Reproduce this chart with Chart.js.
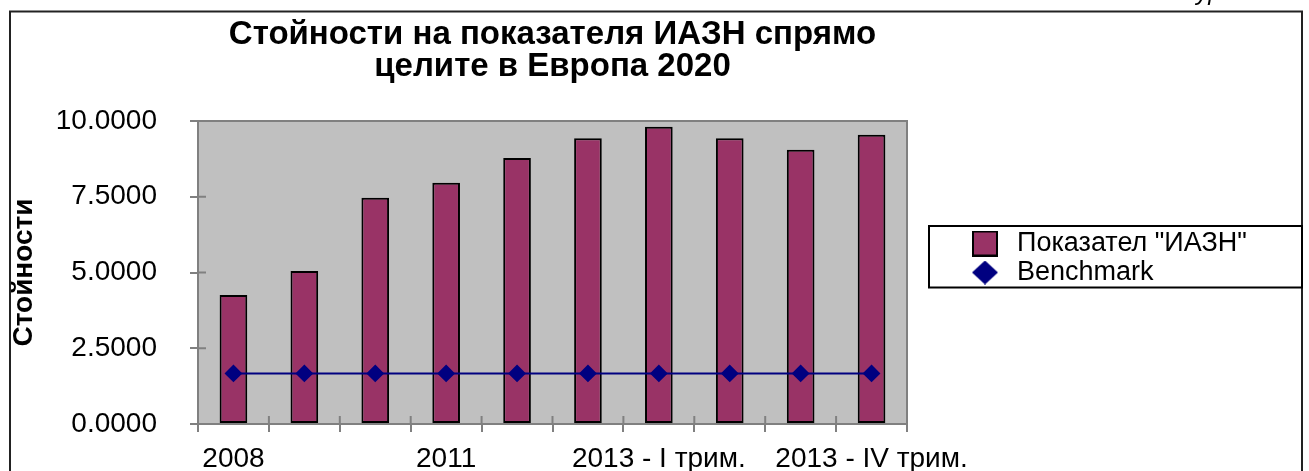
<!DOCTYPE html>
<html>
<head>
<meta charset="utf-8">
<script src="https://cdn.jsdelivr.net/npm/chart.js@4.4.1/dist/chart.umd.min.js"></script>
<style>
  html, body { margin: 0; padding: 0; background: #fff; overflow: hidden; }
  #wrap { position: relative; width: 1309px; height: 471px; overflow: hidden; }
  #c { position: absolute; left: 0; top: 0; }
  #fig { position: absolute; left: 1152px; top: -20px; font: italic 24px "Liberation Sans", Arial, sans-serif; line-height: 24px; color: #000; white-space: nowrap; }
</style>
</head>
<body>
<div id="wrap">
  <canvas id="c" width="1309" height="516" style="width:1309px;height:516px"></canvas>
  <div id="fig">Фигура</div>
</div>
<script>
// ---- data ----
const categories = ["2008", "2009", "2010", "2011", "2012", "2012 - IV трим.", "2013 - I трим.", "2013 - II трим.", "2013 - III трим.", "2013 - IV трим."];
const iaznValues = [4.26, 5.05, 7.47, 7.96, 8.78, 9.43, 9.81, 9.43, 9.05, 9.55];
const benchmarkValues = [1.67, 1.67, 1.67, 1.67, 1.67, 1.67, 1.67, 1.67, 1.67, 1.67];
const seriesNames = ['Показател "ИАЗН"', 'Benchmark'];
const titleLines = ["Стойности на показателя ИАЗН спрямо", "целите в Европа 2020"];
const yAxisTitle = "Стойности";
const yTicks = [0, 2.5, 5, 7.5, 10];

const FONT = '"Liberation Sans", Arial, sans-serif';
const BAR_COLOR = '#993366';
const LINE_COLOR = '#000080';
const AXIS_GRAY = '#808080';

// legend markers
function makeSquare() {
  const c = document.createElement('canvas'); c.width = 26; c.height = 26;
  const g = c.getContext('2d');
  g.fillStyle = '#000'; g.fillRect(0, 0, 26, 26);
  g.fillStyle = BAR_COLOR; g.fillRect(2, 2, 22, 22);
  return c;
}
function makeDiamond() {
  const c = document.createElement('canvas'); c.width = 26; c.height = 24;
  const g = c.getContext('2d');
  g.fillStyle = LINE_COLOR;
  g.beginPath(); g.moveTo(13, 0); g.lineTo(26, 12); g.lineTo(13, 24); g.lineTo(0, 12); g.closePath(); g.fill();
  return c;
}
const markers = [makeSquare(), makeDiamond()];

const decorPlugin = {
  id: 'decor',
  afterLayout(chart) {
    const lg = chart.legend;
    if (lg) {
      lg.left = 964.5;
      lg.right = 1302;
      lg.width = lg.right - lg.left;
    }
  },
  beforeDraw(chart) {
    const {ctx, chartArea: a} = chart;
    ctx.save();
    ctx.fillStyle = '#C0C0C0';
    ctx.fillRect(a.left, a.top, a.right - a.left, a.bottom - a.top);
    ctx.restore();
  },
  beforeDatasetsDraw(chart) {
    const {ctx, chartArea: a, scales} = chart;
    ctx.save();
    ctx.strokeStyle = AXIS_GRAY; ctx.lineWidth = 2;
    ctx.strokeRect(a.left, a.top, a.right - a.left, a.bottom - a.top);
    // inner halves of crossing tick marks
    ctx.beginPath();
    scales.y.ticks.forEach(t => {
      const y = scales.y.getPixelForValue(t.value);
      ctx.moveTo(a.left, y); ctx.lineTo(a.left + 8, y);
    });
    for (let i = 0; i <= categories.length; i++) {
      const x = scales.x.getPixelForValue(i - 0.5);
      ctx.moveTo(x, a.bottom); ctx.lineTo(x, a.bottom - 8);
    }
    ctx.stroke();
    ctx.restore();
  },
  afterDraw(chart) {
    const ctx = chart.ctx;
    ctx.save();
    // outer frame
    ctx.strokeStyle = '#222'; ctx.lineWidth = 2;
    ctx.strokeRect(10, 11.5, 1292, 700);
    // legend frame
    const lg = chart.legend;
    if (lg && lg.legendHitBoxes && lg.legendHitBoxes.length) {
      const hb = lg.legendHitBoxes;
      const left = hb[0].left - 37.5;
      const top = hb[0].top - 4;
      const last = hb[hb.length - 1];
      const bottom = last.top + last.height + 1.5;
      ctx.strokeStyle = '#000'; ctx.lineWidth = 2;
      ctx.strokeRect(left, top, 1302 - left, bottom - top);
    }
    ctx.restore();
  }
};

new Chart(document.getElementById('c'), {
  data: {
    labels: categories,
    datasets: [
      {
        type: 'bar',
        label: seriesNames[0],
        data: iaznValues,
        backgroundColor: BAR_COLOR,
        borderColor: '#000',
        borderWidth: 2,
        borderSkipped: false,
        barPercentage: 0.39,
        categoryPercentage: 1.0,
        order: 2
      },
      {
        type: 'line',
        label: seriesNames[1],
        data: benchmarkValues,
        borderColor: LINE_COLOR,
        backgroundColor: LINE_COLOR,
        borderWidth: 2,
        pointStyle: 'rectRot',
        pointRadius: 7.5,
        pointHoverRadius: 7.5,
        pointBackgroundColor: LINE_COLOR,
        pointBorderColor: LINE_COLOR,
        fill: false,
        tension: 0,
        order: 1
      }
    ]
  },
  options: {
    responsive: false,
    animation: false,
    devicePixelRatio: 1,
    layout: { padding: { left: 7, right: 0, top: 0, bottom: 0 } },
    plugins: {
      tooltip: { enabled: false },
      title: {
        display: true,
        fullSize: false,
        text: titleLines,
        color: '#000',
        font: { family: FONT, size: 33, weight: 'bold', lineHeight: 32 / 33 },
        padding: { top: 19, bottom: 38 }
      },
      legend: {
        position: 'right',
        align: 'center',
        labels: {
          usePointStyle: true,
          pointStyleWidth: 37,
          boxHeight: 27,
          padding: 2,
          color: '#000',
          font: { family: FONT, size: 27 },
          generateLabels(chart) {
            const items = Chart.defaults.plugins.legend.labels.generateLabels(chart);
            items.sort((a, b) => a.datasetIndex - b.datasetIndex);
            items.forEach(it => { it.pointStyle = markers[it.datasetIndex]; it.lineWidth = 0; });
            return items;
          }
        }
      }
    },
    scales: {
      x: {
        offset: true,
        grid: { offset: true, drawOnChartArea: false, drawTicks: true, tickLength: 8, color: AXIS_GRAY, lineWidth: 2 },
        border: { display: true, color: AXIS_GRAY, width: 2 },
        ticks: {
          autoSkip: false, maxRotation: 0, minRotation: 0, padding: 10,
          color: '#000', font: { family: FONT, size: 28 },
          callback: function (v, i) { return i % 3 === 0 ? this.getLabelForValue(v) : ''; }
        },
        afterFit(s) { s.height = 516 - 424; }
      },
      y: {
        min: 0, max: 10,
        afterBuildTicks(s) { s.ticks = yTicks.map(v => ({ value: v })); },
        ticks: {
          padding: 33, color: '#000', font: { family: FONT, size: 28 },
          callback: v => Number(v).toFixed(4)
        },
        grid: { drawOnChartArea: false, drawTicks: true, tickLength: 8, color: AXIS_GRAY, lineWidth: 2 },
        border: { display: true, color: AXIS_GRAY, width: 2 },
        title: {
          display: true, text: yAxisTitle, color: '#000',
          font: { family: FONT, size: 28, weight: 'bold' },
          padding: { top: 0, bottom: 0 }
        },
        afterFit(s) { s.width = 198 - 7; }
      },
      gap: {
        type: 'linear',
        position: 'right',
        display: true,
        grid: { display: false, drawTicks: false },
        ticks: { display: false },
        border: { display: false },
        afterFit(s) { s.width = 185; }
      }
    }
  },
  plugins: [decorPlugin]
});
</script>
</body>
</html>
